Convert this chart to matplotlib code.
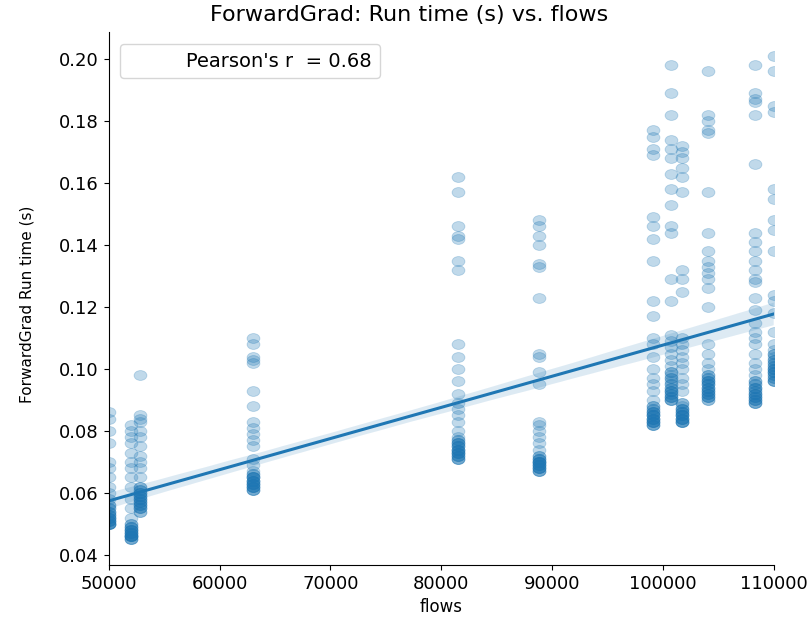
import numpy as np
import pandas as pd
import matplotlib
matplotlib.use('Agg')
import matplotlib.pyplot as plt
import seaborn as sns
from matplotlib.path import Path

# flows value of each run group, and the run times read for it
flow_levels = [50000, 52000, 52800, 63000, 81500, 88800,
               99100, 100700, 101700, 104100, 108300, 110000]

run_times = [
    [0.086, 0.084, 0.080, 0.076, 0.070, 0.068, 0.065, 0.062, 0.060, 0.058,
     0.056, 0.055, 0.054, 0.053, 0.052, 0.051, 0.050, 0.050],
    [0.082, 0.080, 0.078, 0.076, 0.073, 0.070, 0.068, 0.065, 0.062, 0.058,
     0.055, 0.052, 0.050, 0.049, 0.048, 0.047, 0.046, 0.046, 0.045],
    [0.098, 0.085, 0.084, 0.083, 0.080, 0.078, 0.075, 0.072, 0.070, 0.068,
     0.065, 0.062, 0.061, 0.060, 0.059, 0.058, 0.057, 0.056, 0.055, 0.054],
    [0.110, 0.108, 0.104, 0.103, 0.102, 0.093, 0.088, 0.083, 0.081, 0.079,
     0.077, 0.075, 0.071, 0.069, 0.067, 0.066, 0.065, 0.064, 0.063, 0.062, 0.061],
    [0.162, 0.157, 0.146, 0.143, 0.142, 0.135, 0.132, 0.108, 0.104, 0.100,
     0.096, 0.092, 0.089, 0.087, 0.085, 0.083, 0.080, 0.078, 0.077, 0.076,
     0.075, 0.074, 0.073, 0.072, 0.071],
    [0.148, 0.146, 0.143, 0.140, 0.134, 0.133, 0.123, 0.105, 0.104, 0.099,
     0.095, 0.083, 0.082, 0.080, 0.078, 0.076, 0.074, 0.072, 0.071, 0.070,
     0.069, 0.068, 0.067],
    [0.177, 0.175, 0.171, 0.169, 0.149, 0.146, 0.142, 0.135, 0.122, 0.117,
     0.110, 0.108, 0.104, 0.100, 0.097, 0.095, 0.093, 0.090, 0.088, 0.087,
     0.086, 0.085, 0.084, 0.083, 0.082],
    [0.198, 0.189, 0.182, 0.174, 0.171, 0.168, 0.163, 0.158, 0.153, 0.146,
     0.144, 0.129, 0.122, 0.111, 0.109, 0.107, 0.105, 0.103, 0.101, 0.099,
     0.097, 0.095, 0.093, 0.091, 0.090],
    [0.172, 0.170, 0.168, 0.165, 0.162, 0.157, 0.132, 0.129, 0.125, 0.110,
     0.108, 0.106, 0.104, 0.102, 0.100, 0.097, 0.095, 0.093, 0.089, 0.087,
     0.086, 0.085, 0.084, 0.083],
    [0.196, 0.182, 0.180, 0.177, 0.176, 0.157, 0.144, 0.138, 0.135, 0.133,
     0.131, 0.129, 0.126, 0.120, 0.108, 0.105, 0.102, 0.100, 0.098, 0.097,
     0.096, 0.095, 0.094, 0.093, 0.092, 0.091, 0.090],
    [0.198, 0.189, 0.187, 0.186, 0.182, 0.166, 0.144, 0.141, 0.138, 0.135,
     0.132, 0.129, 0.128, 0.123, 0.119, 0.115, 0.112, 0.110, 0.108, 0.105,
     0.102, 0.100, 0.098, 0.096, 0.094, 0.092, 0.091, 0.090, 0.089],
    [0.201, 0.196, 0.185, 0.183, 0.158, 0.155, 0.148, 0.145, 0.138, 0.124,
     0.122, 0.118, 0.112, 0.108, 0.105, 0.103, 0.101, 0.100, 0.099, 0.098,
     0.097, 0.096],
]

# extra runs piled up in the dark (heavily overlapped) bottom part of each group
dense_times = [
    [0.056, 0.055, 0.054, 0.053, 0.053, 0.052, 0.052, 0.051, 0.051, 0.050,
     0.050, 0.050, 0.051, 0.052, 0.054],
    [0.050, 0.049, 0.048, 0.048, 0.047, 0.047, 0.046, 0.046, 0.046, 0.045,
     0.045, 0.047, 0.048, 0.049, 0.046],
    [0.062, 0.061, 0.060, 0.060, 0.059, 0.058, 0.058, 0.057, 0.057, 0.056,
     0.056, 0.055, 0.055, 0.054, 0.059],
    [0.066, 0.065, 0.065, 0.064, 0.064, 0.063, 0.063, 0.062, 0.062, 0.062,
     0.061, 0.061, 0.063, 0.064, 0.065],
    [0.077, 0.076, 0.076, 0.075, 0.075, 0.074, 0.074, 0.073, 0.073, 0.073,
     0.072, 0.072, 0.071, 0.071, 0.074],
    [0.072, 0.071, 0.071, 0.070, 0.070, 0.070, 0.069, 0.069, 0.069, 0.068,
     0.068, 0.068, 0.067, 0.067, 0.070],
    [0.088, 0.087, 0.086, 0.086, 0.085, 0.085, 0.085, 0.084, 0.084, 0.084,
     0.083, 0.083, 0.083, 0.082, 0.082],
    [0.099, 0.098, 0.097, 0.096, 0.095, 0.094, 0.094, 0.093, 0.093, 0.092,
     0.092, 0.091, 0.091, 0.090, 0.090],
    [0.089, 0.088, 0.087, 0.087, 0.086, 0.086, 0.085, 0.085, 0.085, 0.084,
     0.084, 0.084, 0.083, 0.083, 0.083],
    [0.098, 0.097, 0.096, 0.096, 0.095, 0.095, 0.094, 0.094, 0.093, 0.093,
     0.092, 0.092, 0.091, 0.091, 0.090],
    [0.096, 0.095, 0.095, 0.094, 0.094, 0.093, 0.093, 0.092, 0.092, 0.091,
     0.091, 0.090, 0.090, 0.089, 0.089],
    [0.106, 0.105, 0.104, 0.103, 0.102, 0.102, 0.101, 0.100, 0.100, 0.099,
     0.099, 0.098, 0.097, 0.096, 0.096],
]

legend_text = "Pearson's r  = 0.68"

rows = []
for f, ts, ds in zip(flow_levels, run_times, dense_times):
    for t in ts + ds:
        rows.append((f, t))
df = pd.DataFrame(rows, columns=['flows', 'runtime'])

# slightly wide ellipse, the source picture is stretched sideways
circ = Path.unit_circle()
ell = Path(circ.vertices * np.array([1.3, 1.0]), circ.codes)

fig = plt.figure(figsize=(8.11, 6.18), dpi=100)
ax = fig.add_axes([0.134, 0.086, 0.82, 0.862])

sns.regplot(data=df, x='flows', y='runtime', ax=ax, marker=ell,
            scatter_kws={'alpha': 0.28, 's': 85, 'linewidths': 0.6},
            line_kws={'linewidth': 2.2})

ax.set_xlim(50000, 110000)
ax.set_ylim(0.0368, 0.2087)
ax.set_xticks([50000, 60000, 70000, 80000, 90000, 100000, 110000])
ax.set_yticks([0.04, 0.06, 0.08, 0.10, 0.12, 0.14, 0.16, 0.18, 0.20])
ax.tick_params(labelsize=13)
ax.set_xlabel('flows', fontsize=12)
ax.set_ylabel('ForwardGrad Run time (s)', fontsize=11)
ax.yaxis.set_label_coords(-0.112, 0.49)
fig.text(0.505, 0.975, 'ForwardGrad: Run time (s) vs. flows', fontsize=16,
         ha='center', va='center')
sns.despine(ax=ax)

ax.plot([], [], ' ', label=legend_text)
ax.legend(loc='upper left', fontsize=14, handlelength=2.2,
          borderaxespad=0.6)

fig.savefig('out.png', dpi=100)
